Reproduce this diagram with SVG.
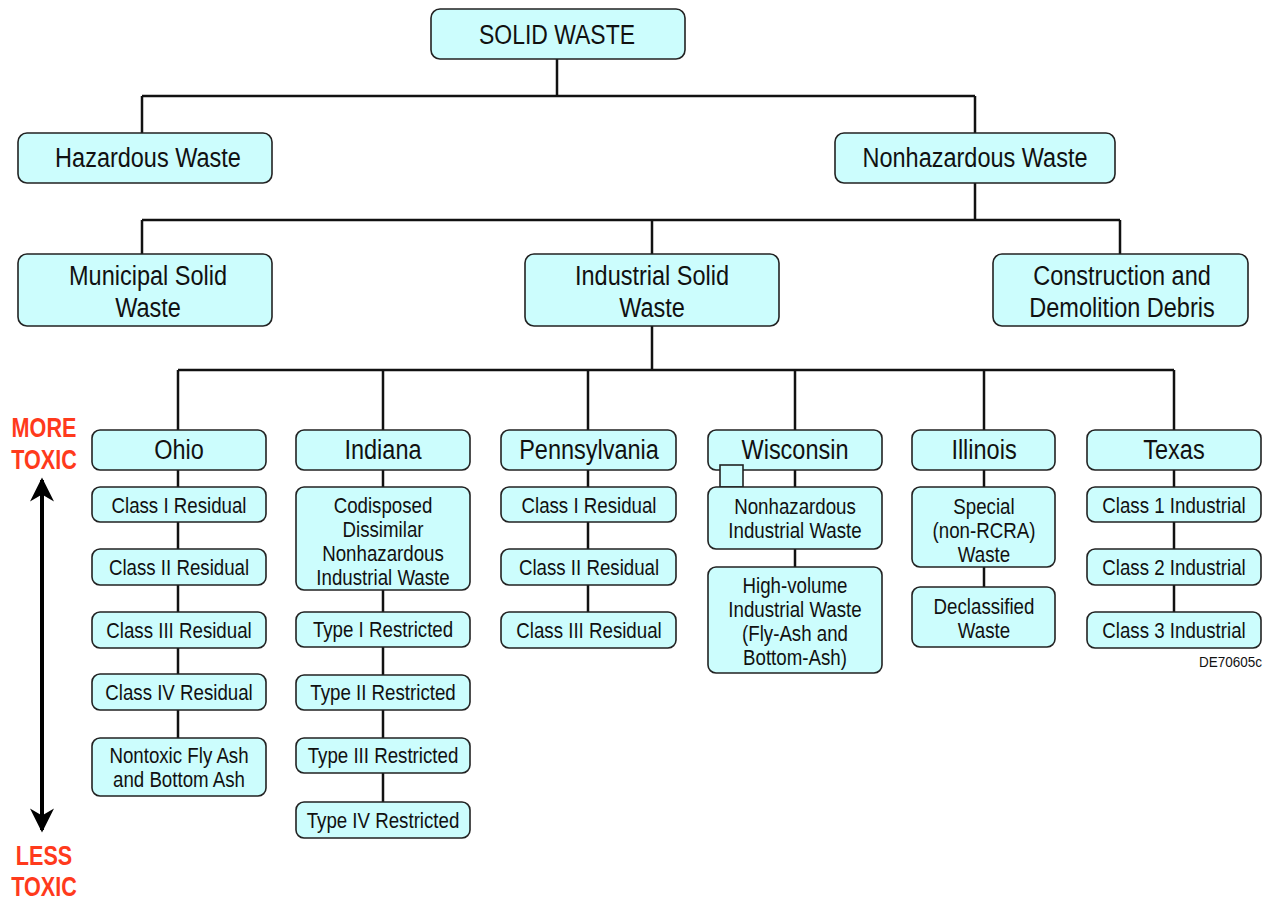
<svg xmlns="http://www.w3.org/2000/svg" width="1270" height="899" viewBox="0 0 1270 899">
<style>
.b{fill:#ccfdfd;stroke:#222;stroke-width:1.6}
.t{font-family:"Liberation Sans",Arial,sans-serif;fill:#111;text-anchor:middle}
.l{font-size:27px}
.s{font-size:22px}
.c{stroke:#111;stroke-width:2.5;fill:none}
.r{font-family:"Liberation Sans",Arial,sans-serif;font-weight:bold;font-size:27px;fill:#ff3a1c;text-anchor:middle}
</style>
<defs>
<marker id="ah" viewBox="0 0 10 10" refX="9" refY="5" markerWidth="6.5" markerHeight="6" orient="auto-start-reverse" markerUnits="strokeWidth"><path d="M0,0 L10,5 L0,10 L3,5 z" fill="#000"/></marker>
</defs>
<rect width="1270" height="899" fill="#fff"/>
<g id="connectors" class="c">
<path d="M557,59V96M142,96H975M142,96V133M975,96V133"/>
<path d="M975,183V220M142,220H1120M142,220V254M652,220V254M1120,220V254"/>
<path d="M652,326V370M178,370H1174M178,370V430M383,370V430M588,370V430M795,370V430M984,370V430M1174,370V430"/>
<path d="M178,470V738M383,470V802M588,470V612M795,470V567M984,470V587M1174,470V612"/>
</g>
<g id="solid-waste"><rect class="b" x="431" y="9" width="254" height="50" rx="9"/><text class="t l" transform="translate(557,44) scale(.85,1)">SOLID WASTE</text></g>
<g id="hazardous"><rect class="b" x="18" y="133" width="254" height="50" rx="9"/><text class="t l" transform="translate(148,167) scale(.87,1)">Hazardous Waste</text></g>
<g id="nonhazardous"><rect class="b" x="835" y="133" width="280" height="50" rx="9"/><text class="t l" transform="translate(975,167) scale(.87,1)">Nonhazardous Waste</text></g>
<g id="municipal"><rect class="b" x="18" y="254" width="254" height="72" rx="9"/><text class="t l" transform="translate(148,285) scale(.87,1)">Municipal Solid</text><text class="t l" transform="translate(148,317) scale(.87,1)">Waste</text></g>
<g id="industrial"><rect class="b" x="525" y="254" width="254" height="72" rx="9"/><text class="t l" transform="translate(652,285) scale(.87,1)">Industrial Solid</text><text class="t l" transform="translate(652,317) scale(.87,1)">Waste</text></g>
<g id="construction"><rect class="b" x="993" y="254" width="255" height="72" rx="9"/><text class="t l" transform="translate(1122,285) scale(.87,1)">Construction and</text><text class="t l" transform="translate(1122,317) scale(.87,1)">Demolition Debris</text></g>

<g id="ohio"><rect class="b" x="92" y="430" width="174" height="40" rx="8"/><text class="t l" transform="translate(179,459) scale(.87,1)">Ohio</text></g>
<g id="ohio-1"><rect class="b" x="92" y="487" width="174" height="35" rx="8"/><text class="t s" transform="translate(179,513) scale(.85,1)">Class I Residual</text></g>
<g id="ohio-2"><rect class="b" x="92" y="549" width="174" height="36" rx="8"/><text class="t s" transform="translate(179,575) scale(.85,1)">Class II Residual</text></g>
<g id="ohio-3"><rect class="b" x="92" y="612" width="174" height="36" rx="8"/><text class="t s" transform="translate(179,638) scale(.85,1)">Class III Residual</text></g>
<g id="ohio-4"><rect class="b" x="92" y="674" width="174" height="36" rx="8"/><text class="t s" transform="translate(179,700) scale(.85,1)">Class IV Residual</text></g>
<g id="ohio-5"><rect class="b" x="92" y="738" width="174" height="58" rx="8"/><text class="t s" transform="translate(179,763) scale(.85,1)">Nontoxic Fly Ash</text><text class="t s" transform="translate(179,787) scale(.85,1)">and Bottom Ash</text></g>

<g id="indiana"><rect class="b" x="296" y="430" width="174" height="40" rx="8"/><text class="t l" transform="translate(383,459) scale(.87,1)">Indiana</text></g>
<g id="indiana-1"><rect class="b" x="296" y="487" width="174" height="103" rx="8"/><text class="t s" transform="translate(383,513) scale(.85,1)">Codisposed</text><text class="t s" transform="translate(383,537) scale(.85,1)">Dissimilar</text><text class="t s" transform="translate(383,561) scale(.85,1)">Nonhazardous</text><text class="t s" transform="translate(383,585) scale(.85,1)">Industrial Waste</text></g>
<g id="indiana-2"><rect class="b" x="296" y="612" width="174" height="35" rx="8"/><text class="t s" transform="translate(383,637) scale(.85,1)">Type I Restricted</text></g>
<g id="indiana-3"><rect class="b" x="296" y="675" width="174" height="35" rx="8"/><text class="t s" transform="translate(383,700) scale(.85,1)">Type II Restricted</text></g>
<g id="indiana-4"><rect class="b" x="296" y="738" width="174" height="35" rx="8"/><text class="t s" transform="translate(383,763) scale(.85,1)">Type III Restricted</text></g>
<g id="indiana-5"><rect class="b" x="296" y="802" width="174" height="36" rx="8"/><text class="t s" transform="translate(383,828) scale(.85,1)">Type IV Restricted</text></g>

<g id="pennsylvania"><rect class="b" x="501" y="430" width="175" height="40" rx="8"/><text class="t l" transform="translate(589,459) scale(.87,1)">Pennsylvania</text></g>
<g id="penn-1"><rect class="b" x="501" y="487" width="175" height="35" rx="8"/><text class="t s" transform="translate(589,513) scale(.85,1)">Class I Residual</text></g>
<g id="penn-2"><rect class="b" x="501" y="549" width="175" height="36" rx="8"/><text class="t s" transform="translate(589,575) scale(.85,1)">Class II Residual</text></g>
<g id="penn-3"><rect class="b" x="501" y="612" width="175" height="36" rx="8"/><text class="t s" transform="translate(589,638) scale(.85,1)">Class III Residual</text></g>

<g id="wisconsin"><rect class="b" x="708" y="430" width="174" height="40" rx="8"/><text class="t l" transform="translate(795,459) scale(.87,1)">Wisconsin</text></g>
<g id="wisconsin-tab"><rect class="b" x="720" y="465" width="23" height="22"/></g>
<g id="wisconsin-1"><rect class="b" x="708" y="487" width="174" height="62" rx="8"/><text class="t s" transform="translate(795,514) scale(.85,1)">Nonhazardous</text><text class="t s" transform="translate(795,538) scale(.85,1)">Industrial Waste</text></g>
<g id="wisconsin-2"><rect class="b" x="708" y="567" width="174" height="106" rx="8"/><text class="t s" transform="translate(795,593) scale(.85,1)">High-volume</text><text class="t s" transform="translate(795,617) scale(.85,1)">Industrial Waste</text><text class="t s" transform="translate(795,641) scale(.85,1)">(Fly-Ash and</text><text class="t s" transform="translate(795,665) scale(.85,1)">Bottom-Ash)</text></g>

<g id="illinois"><rect class="b" x="912" y="430" width="143" height="40" rx="8"/><text class="t l" transform="translate(984,459) scale(.87,1)">Illinois</text></g>
<g id="illinois-1"><rect class="b" x="912" y="487" width="143" height="80" rx="8"/><text class="t s" transform="translate(984,514) scale(.85,1)">Special</text><text class="t s" transform="translate(984,538) scale(.85,1)">(non-RCRA)</text><text class="t s" transform="translate(984,562) scale(.85,1)">Waste</text></g>
<g id="illinois-2"><rect class="b" x="912" y="587" width="143" height="60" rx="8"/><text class="t s" transform="translate(984,614) scale(.85,1)">Declassified</text><text class="t s" transform="translate(984,638) scale(.85,1)">Waste</text></g>

<g id="texas"><rect class="b" x="1087" y="430" width="174" height="40" rx="8"/><text class="t l" transform="translate(1174,459) scale(.87,1)">Texas</text></g>
<g id="texas-1"><rect class="b" x="1087" y="487" width="174" height="35" rx="8"/><text class="t s" transform="translate(1174,513) scale(.85,1)">Class 1 Industrial</text></g>
<g id="texas-2"><rect class="b" x="1087" y="549" width="174" height="36" rx="8"/><text class="t s" transform="translate(1174,575) scale(.85,1)">Class 2 Industrial</text></g>
<g id="texas-3"><rect class="b" x="1087" y="612" width="174" height="36" rx="8"/><text class="t s" transform="translate(1174,638) scale(.85,1)">Class 3 Industrial</text></g>

<text class="t" transform="translate(1262,667) scale(.9,1)" style="font-size:15px;text-anchor:end">DE70605c</text>

<g id="toxicity-arrow">
<line x1="42" y1="480" x2="42" y2="830" stroke="#000" stroke-width="4" marker-start="url(#ah)" marker-end="url(#ah)"/>
<text class="r" transform="translate(44,437) scale(.8,1)">MORE</text><text class="r" transform="translate(44,469) scale(.8,1)">TOXIC</text>
<text class="r" transform="translate(44,865) scale(.8,1)">LESS</text><text class="r" transform="translate(44,896) scale(.8,1)">TOXIC</text>
</g>
</svg>
